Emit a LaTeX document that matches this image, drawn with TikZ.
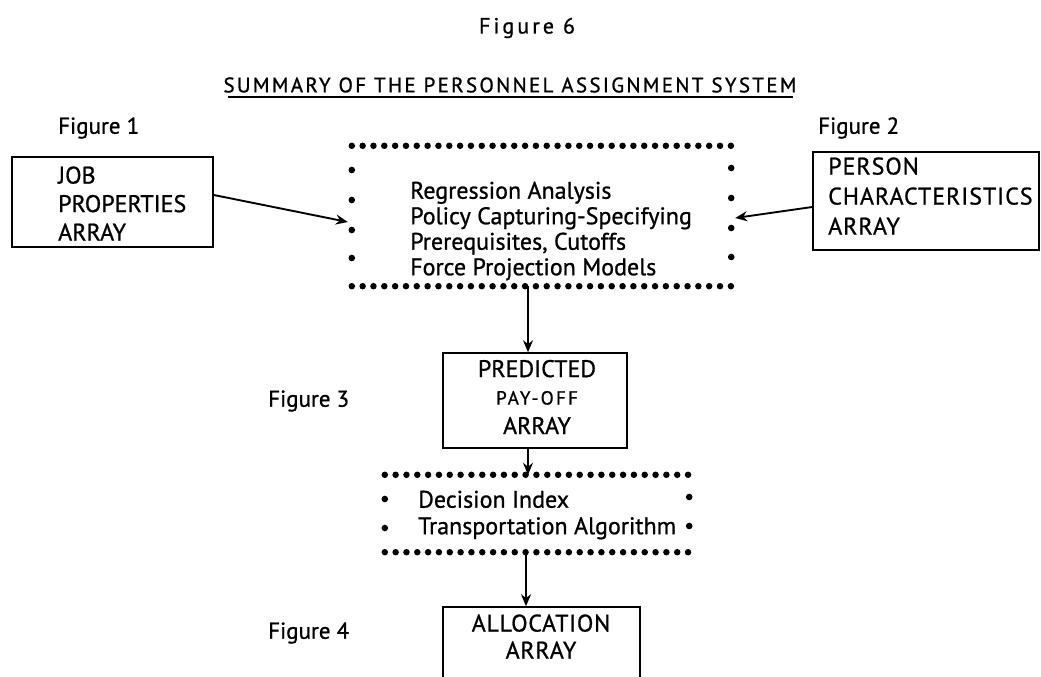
\documentclass[tikz,border=0pt]{standalone}
\usepackage{fontspec}
\setmainfont{PT Sans}[FakeBold=0.9]
\usetikzlibrary{arrows.meta,calc}
\begin{document}
\begin{tikzpicture}[x=1pt,y=-1pt,
  box/.style={draw,line width=1.6pt,inner sep=0pt},
  area/.style={draw=none,inner sep=0pt},
  txt/.style={align=left,inner sep=0pt,font=\fontsize{24}{28.5}\selectfont},
  ctxt/.style={align=center,inner sep=0pt,font=\fontsize{24}{29.5}\selectfont},
  lbl/.style={inner sep=0pt,font=\fontsize{23}{26}\selectfont},
  dotrow/.style={line width=6.5pt,line cap=round,dash pattern=on 0pt off 10.83pt},
  sdot/.style={radius=3.3pt},
  arr/.style={line width=1.9pt,-{Stealth[length=12pt,width=10pt]}}]
\useasboundingbox (0,0) rectangle (1041,677);

% titles
\node[lbl,font=\fontsize{22}{24}\selectfont\addfontfeatures{LetterSpace=14}] (fig6) at (527,28) {Figure 6};
\node[lbl,font=\fontsize{21}{24}\selectfont\addfontfeatures{LetterSpace=11}] (title) at (510,85) {SUMMARY OF THE PERSONNEL ASSIGNMENT SYSTEM};
\draw[line width=1.6pt] (228,97) -- (793,97);

% side labels
\node[lbl,anchor=west] (fig1) at (58,128) {Figure 1};
\node[lbl,anchor=west] (fig2) at (818,128) {Figure 2};
\node[lbl,anchor=west] (fig3) at (268,401) {Figure 3};
\node[lbl,anchor=west] (fig4) at (268,633) {Figure 4};

% JOB box
\node[box,minimum width=201,minimum height=90] (job) at (112.5,202) {};
\node[txt,anchor=west] (jobt) at (58,203.5) {JOB\\PROPERTIES\\ARRAY};

% PERSON box
\node[box,minimum width=226,minimum height=98] (person) at (926,201) {};
\node[txt,anchor=west,font=\fontsize{24}{30}\selectfont\addfontfeatures{LetterSpace=4}] (persont) at (828,196) {PERSON\\CHARACTERISTICS\\ARRAY};

% central dotted box
\node[area,minimum width=379,minimum height=140] (cbox) at (541.5,216) {};
\draw[dotrow] (cbox.north west) -- (cbox.north east);
\draw[dotrow] (cbox.south west) -- (cbox.south east);
\foreach \y in {170,200,230,258} \fill (cbox.west |- 0,\y) circle[sdot];
\foreach \y in {168,198,228,257} \fill (cbox.east |- 0,\y) circle[sdot];
\node[txt,anchor=west,font=\fontsize{24}{25.5}\selectfont] (ctext) at (410,231) {Regression Analysis\\Policy Capturing-Specifying\\Prerequisites, Cutoffs\\Force Projection Models};

% predicted pay-off box
\node[box,minimum width=184,minimum height=95] (pred) at (535,400.5) {};
\node[ctxt] (predt) at (537,397) {PREDICTED\\[-2pt]{\fontsize{19}{22}\selectfont\addfontfeatures{LetterSpace=12}PAY-OFF}\\ARRAY};

% decision dotted box
\node[area,minimum width=304,minimum height=77] (dbox) at (537,513.5) {};
\draw[dotrow] (dbox.north west) -- (dbox.north east);
\draw[dotrow] (dbox.south west) -- (dbox.south east);
\foreach \y in {499,528} \fill (dbox.west |- 0,\y) circle[sdot];
\foreach \y in {497,526} \fill (dbox.east |- 0,\y) circle[sdot];
\node[txt,anchor=west,font=\fontsize{24}{26.5}\selectfont] (dtext) at (418,515) {Decision Index\\Transportation Algorithm};

% allocation box (runs past the lower edge)
\node[box,minimum width=197,minimum height=83] (alloc) at (541.5,648.5) {};
\node[ctxt,font=\fontsize{24}{27}\selectfont\addfontfeatures{LetterSpace=3}] (allot) at (541,636.5) {ALLOCATION\\ARRAY};

% connectors
\coordinate (ax) at (528,0);
\coordinate (bx) at (526,0);
\draw[arr] ($(job.east)+(0,-7)$) -- ($(cbox.west)+(-4,6)$);
\draw[arr] ($(person.west)+(0,6)$) -- ($(cbox.east)+(4,2)$);
\draw[arr] (cbox.south -| ax) -- (pred.north -| ax);
\draw[arr] (pred.south -| ax) -- (dbox.north -| ax);
\draw[arr] (dbox.south -| bx) -- (alloc.north -| bx);
\end{tikzpicture}
\end{document}
